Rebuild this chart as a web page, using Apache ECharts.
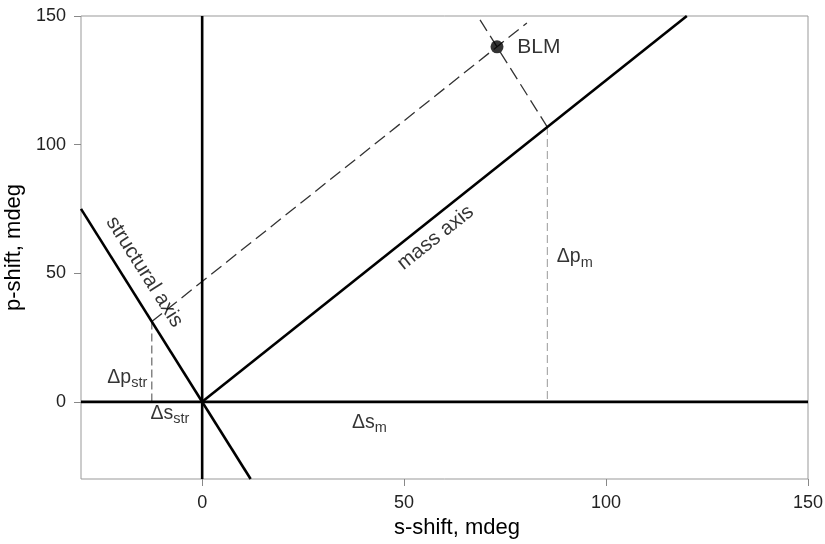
<!DOCTYPE html>
<html><head><meta charset="utf-8">
<script src="https://cdn.jsdelivr.net/npm/echarts@6/dist/echarts.min.js"></script>
<style>html,body{margin:0;padding:0;background:#fff}#c{width:825px;height:544px}</style>
</head><body><div id="c"></div>
<script>
// ---- data (mdeg) ----
const xRange = [-30, 150];
const yRange = [-30, 150];
const xTicks = [0, 50, 100, 150];
const yTicks = [0, 50, 100, 150];
const sAxisLine = [[-30, 0], [150, 0]];
const pAxisLine = [[0, -30], [0, 150]];
const massAxis = [[0, 0], [120, 150]];
const structuralAxis = [[-30, 75], [12, -30]];
const blmPoint = [73, 138];
const blmAlongMass = [[-12.47, 31.2], [80.4, 147.3]];
const blmAlongStruct = [[68.8, 148.5], [85.47, 106.8]];
const deltaPm = [[85.47, 106.8], [85.47, 0]];
const deltaPstr = [[-12.47, 31.2], [-12.47, 0]];
const annotationTexts = ['BLM', 'mass axis', 'structural axis', 'Δp|m', 'Δp|str', 'Δs|str', 'Δs|m'];
const annotationAt = [[78, 137.7], [57.8, 63.8], [-14.3, 50.5], [87.8, 56.3], [-13.6, 9.6], [-12.8, -4.4], [37.1, -7.9]];

const FONT = "'Liberation Sans', Arial, Helvetica, sans-serif";
const chart = echarts.init(document.getElementById('c'), null, {renderer: 'canvas'});

function lineSeries(data, color, width, type) {
  return {
    type: 'line', data: data, symbol: 'none', silent: true, animation: false,
    lineStyle: {color: color, width: width, type: type || 'solid'}, z: 3
  };
}

const labelStyles = [
  {align: 'left', rotate: 0, size: 21},
  {align: 'center', rotate: 38.5, size: 20.5},
  {align: 'center', rotate: -57.7, size: 20.5},
  {align: 'left', rotate: 0, size: 19.5},
  {align: 'right', rotate: 0, size: 19.5},
  {align: 'left', rotate: 0, size: 19.5},
  {align: 'left', rotate: 0, size: 19.5}
];

const labelData = annotationTexts.map(function (t, i) {
  const st = labelStyles[i];
  const parts = t.split('|');
  const fmt = parts.length > 1 ? '{a|' + parts[0] + '}{s|' + parts[1] + '}' : '{a|' + parts[0] + '}';
  return {
    value: annotationAt[i],
    label: {
      show: true, position: 'inside', formatter: fmt,
      align: st.align, verticalAlign: 'middle', rotate: st.rotate,
      rich: {
        a: {fontFamily: FONT, fontSize: st.size, color: '#000', lineHeight: 26, verticalAlign: 'middle'},
        s: {fontFamily: FONT, fontSize: 14.5, color: '#000', lineHeight: 12, verticalAlign: 'bottom'}
      }
    }
  };
});

const option = {
  backgroundColor: '#fff',
  animation: false,
  grid: {left: 81, right: 17, top: 16, bottom: 65, show: true, borderColor: '#999', borderWidth: 1,
         containLabel: false, outerBoundsMode: 'none'},
  xAxis: {
    type: 'value', min: xRange[0], max: xRange[1],
    name: 's-shift, mdeg', nameLocation: 'middle', nameGap: 36,
    nameTextStyle: {fontFamily: FONT, fontSize: 22, color: '#000', padding: [0, 0, 0, 25]},
    axisLine: {show: false, onZero: false},
    axisTick: {show: true, inside: false, length: 7, customValues: xTicks, lineStyle: {color: '#888'}},
    axisLabel: {show: true, margin: 15, customValues: xTicks, fontFamily: FONT, fontSize: 18, color: '#222'},
    splitLine: {show: false}
  },
  yAxis: {
    type: 'value', min: yRange[0], max: yRange[1],
    name: 'p-shift, mdeg', nameLocation: 'middle', nameGap: 50,
    nameTextStyle: {fontFamily: FONT, fontSize: 22, color: '#000'},
    axisLine: {show: false, onZero: false},
    axisTick: {show: true, inside: false, length: 7, customValues: yTicks, lineStyle: {color: '#888'}},
    axisLabel: {show: true, margin: 15, customValues: yTicks, fontFamily: FONT, fontSize: 18, color: '#222'},
    splitLine: {show: false}
  },
  series: [
    lineSeries(deltaPm, '#aaa', 1.2, [8, 4]),
    lineSeries(deltaPstr, '#666', 1.2, [8, 4]),
    lineSeries(blmAlongMass, '#333', 1.3, [13, 6]),
    lineSeries(blmAlongStruct, '#333', 1.3, [13, 6]),
    lineSeries(sAxisLine, '#000', 2.6),
    lineSeries(pAxisLine, '#000', 2.6),
    lineSeries(massAxis, '#000', 2.6),
    lineSeries(structuralAxis, '#000', 2.6),
    {
      type: 'scatter', data: [blmPoint], symbol: 'circle', symbolSize: 13, silent: true,
      itemStyle: {color: '#000'}, z: 5
    },
    {
      type: 'scatter', data: labelData, symbolSize: 0, silent: true, z: 6,
      itemStyle: {color: 'transparent'}
    }
  ]
};
chart.setOption(option);
</script></body></html>
